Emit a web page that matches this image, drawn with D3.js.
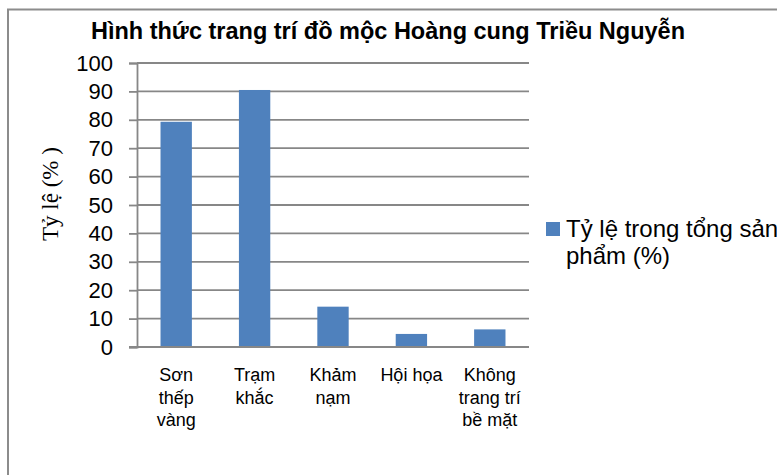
<!DOCTYPE html>
<html>
<head>
<meta charset="utf-8">
<script src="https://cdn.jsdelivr.net/npm/d3@7"></script>
<style>
  body { margin: 0; background: #fff; }
  svg { display: block; }
</style>
</head>
<body>
<div id="chart"></div>
<script>
// chart data
var categories = ["Sơn thếp vàng", "Trạm khắc", "Khảm nạm", "Hội họa", "Không trang trí bề mặt"];
// how each category label breaks into lines
var categoryLines = [["Sơn", "thếp", "vàng"], ["Trạm", "khắc"], ["Khảm", "nạm"], ["Hội họa"], ["Không", "trang trí", "bề mặt"]];
var values = [79.3, 90.5, 14.2, 4.6, 6.2];
var yTicks = [0, 10, 20, 30, 40, 50, 60, 70, 80, 90, 100];
var title = "Hình thức trang trí đồ mộc Hoàng cung Triều Nguyễn";
var yTitle = "Tỷ lệ (% )";
var legendLines = ["Tỷ lệ trong tổng sản", "phẩm (%)"];

var svgWidth = 777;
var svgHeight = 475;
var plot = { left: 137, right: 529, top: 63, bottom: 347 };

var svg = d3.select("#chart")
    .append("svg")
    .attr("width", svgWidth)
    .attr("height", svgHeight);

// outer chart frame (runs off the bottom/right of the picture)
svg.append("rect")
    .attr("x", 8)
    .attr("y", 9.5)
    .attr("width", 820)
    .attr("height", 520)
    .attr("fill", "none")
    .attr("stroke", "#8c8c8c")
    .attr("stroke-width", 2);

var xScale = d3.scaleBand()
    .domain(categories)
    .range([plot.left, plot.right])
    .paddingInner(0.6)
    .paddingOuter(0.3);

var yScale = d3.scaleLinear()
    .domain([0, 100])
    .range([plot.bottom, plot.top]);

// gridlines
svg.append("g")
    .selectAll("line")
    .data(yTicks)
    .enter()
    .append("line")
    .attr("x1", plot.left)
    .attr("x2", plot.right)
    .attr("y1", d => yScale(d))
    .attr("y2", d => yScale(d))
    .attr("stroke", "#878787")
    .attr("stroke-width", 1.8);

// y axis
var yAxis = svg.append("g")
    .attr("transform", `translate(${plot.left}, 0)`)
    .call(d3.axisLeft(yScale).tickValues(yTicks).tickSize(8).tickPadding(16));
yAxis.select(".domain").attr("stroke", "#878787").attr("stroke-width", 1.8);
yAxis.selectAll(".tick line").attr("stroke", "#878787").attr("stroke-width", 1.8);
yAxis.selectAll(".tick text")
    .attr("fill", "#000")
    .style("font-family", "'Liberation Sans', Arial, sans-serif")
    .style("font-size", "22px");

// bars
svg.append("g")
    .selectAll("rect")
    .data(values)
    .enter()
    .append("rect")
    .attr("x", (d, i) => xScale(categories[i]))
    .attr("y", d => yScale(d))
    .attr("width", xScale.bandwidth())
    .attr("height", d => yScale(0) - yScale(d))
    .attr("fill", "#4f81bd");

// baseline on top of bars
svg.append("line")
    .attr("x1", plot.left - 8)
    .attr("x2", plot.right)
    .attr("y1", yScale(0))
    .attr("y2", yScale(0))
    .attr("stroke", "#878787")
    .attr("stroke-width", 1.8);

// category labels
var xLabels = svg.append("g");
categories.forEach((c, i) => {
    var t = xLabels.append("text")
        .attr("text-anchor", "middle")
        .style("font-family", "'Liberation Sans', Arial, sans-serif")
        .style("font-size", "18px")
        .attr("fill", "#000");
    categoryLines[i].forEach((line, j) => {
        t.append("tspan")
            .attr("x", xScale(c) + xScale.bandwidth() / 2)
            .attr("y", plot.bottom + 34 + j * 22.7)
            .text(line);
    });
});

// title
svg.append("text")
    .attr("x", 388)
    .attr("y", 39)
    .attr("text-anchor", "middle")
    .style("font-family", "'Liberation Sans', Arial, sans-serif")
    .style("font-weight", "bold")
    .style("font-size", "23.5px")
    .text(title);

// y axis title
svg.append("text")
    .attr("transform", "translate(58, 194) rotate(-90)")
    .attr("text-anchor", "middle")
    .style("font-family", "'Liberation Serif', 'Times New Roman', serif")
    .style("font-size", "23px")
    .text(yTitle);

// legend
var legend = svg.append("g");
legend.append("rect")
    .attr("x", 546)
    .attr("y", 222)
    .attr("width", 14)
    .attr("height", 14)
    .attr("fill", "#4f81bd");
legend.append("text")
    .style("font-family", "'Liberation Sans', Arial, sans-serif")
    .style("font-size", "24px")
    .attr("fill", "#000")
    .selectAll("tspan")
    .data(legendLines)
    .enter()
    .append("tspan")
    .attr("x", 566)
    .attr("y", (d, i) => 237 + i * 27)
    .text(d => d);
</script>
</body>
</html>
